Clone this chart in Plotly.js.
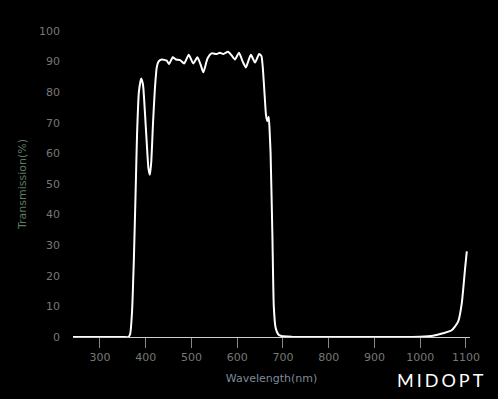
<!DOCTYPE html>
<html>
<head>
<meta charset="utf-8">
<script src="https://cdn.plot.ly/plotly-3.0.1.min.js"></script>
<style>html,body{margin:0;padding:0;background:#000;}#chart{width:498px;height:399px;}
#chart .annotation-text{letter-spacing:3px;}</style>
</head>
<body>
<div id="chart"></div>
<script>
const wavelength = [241, 350, 362, 366, 370, 374, 378, 381, 385, 390, 394, 398, 402, 406, 409, 412, 416, 420, 424, 428, 435, 446, 451, 459, 466, 475, 484, 494, 504, 513, 520, 526, 535, 544, 555, 562, 570, 580, 588, 595, 604, 612, 619, 625, 630, 639, 648, 653, 656, 660, 663, 666, 669, 671, 673, 677, 680, 684, 690, 697, 720, 800, 900, 1000, 1028, 1050, 1069, 1083, 1091, 1098, 1102];
const transmission = [0, 0, 0, 1, 8, 25, 48, 66, 80, 84.5, 82.5, 74, 64, 55, 53, 57, 70, 81, 88, 90, 90.7, 90.3, 89.2, 91.4, 90.7, 90.5, 89.4, 92.2, 89.4, 91.4, 89, 86.5, 91, 92.7, 92.5, 92.9, 92.5, 93.2, 92, 90.7, 92.9, 90, 88.1, 90.5, 92.2, 89.7, 92.5, 91.8, 88, 79, 72.5, 70.5, 72, 67, 60, 33, 10, 3, 0.8, 0.3, 0.1, 0, 0, 0.1, 0.4, 1.2, 2.2, 5, 11, 22, 28];
const xTicks = [300, 400, 500, 600, 700, 800, 900, 1000, 1100];
const yTicks = [0, 10, 20, 30, 40, 50, 60, 70, 80, 90, 100];

const trace = {
  x: wavelength, y: transmission, type: 'scatter', mode: 'lines',
  line: {color: '#ffffff', width: 2, shape: 'spline', smoothing: 0.5},
  hoverinfo: 'skip'
};
const layout = {
  width: 498, height: 399,
  paper_bgcolor: '#000000', plot_bgcolor: '#000000',
  margin: {l: 73, r: 28, t: 31, b: 62},
  showlegend: false,
  font: {family: 'DejaVu Sans', size: 11, color: '#777777'},
  xaxis: {
    range: [241, 1109], tickvals: xTicks, ticktext: xTicks.map(String),
    showgrid: false, zeroline: false, showline: true, linecolor: '#cccccc', linewidth: 1,
    ticks: 'outside', ticklen: 10, tickcolor: '#888888', tickwidth: 1,
    tickfont: {family: 'DejaVu Sans', size: 11, color: '#777777'},
    title: {text: 'Wavelength(nm)', standoff: 11, font: {family: 'DejaVu Sans', size: 11, color: '#7d8a98'}}
  },
  yaxis: {
    range: [0, 100], tickvals: yTicks, ticktext: yTicks.map(String),
    showgrid: false, zeroline: false, showline: false, ticks: '',
    ticklabelstandoff: 12,
    tickfont: {family: 'DejaVu Sans', size: 11, color: '#777777'},
    title: {text: 'Transmission(%)', standoff: 10, font: {family: 'DejaVu Sans', size: 11, color: '#5f7a5f'}}
  },
  annotations: [{
    text: 'MIDOPT', xref: 'paper', yref: 'paper', x: 0.93, y: -0.1405,
    xanchor: 'center', yanchor: 'middle', showarrow: false,
    font: {family: 'Lato', size: 18, weight: 400, color: '#ffffff'}
  }]
};
Plotly.newPlot('chart', [trace], layout, {displayModeBar: false, staticPlot: true});
</script>
</body>
</html>
